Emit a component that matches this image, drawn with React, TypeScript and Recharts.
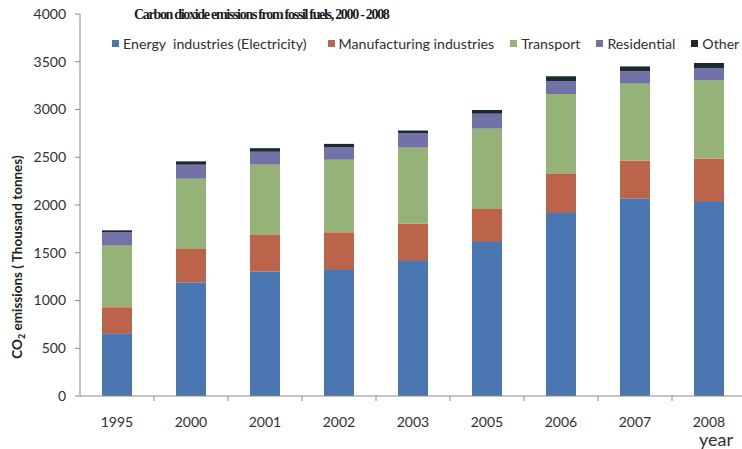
import React from 'react';
import { BarChart, Bar, XAxis, YAxis } from 'recharts';

const categories = ['1995', '2000', '2001', '2002', '2003', '2005', '2006', '2007', '2008'];
const energy = [650, 1185, 1300, 1320, 1414, 1613, 1916, 2066, 2031];
const manufacturing = [280, 355, 386, 394, 390, 345, 409, 398, 454];
const transport = [645, 735, 736, 760, 796, 841, 837, 806, 820];
const residential = [140, 147, 136, 133, 150, 157, 136, 130, 130];
const other = [20, 35, 37, 33, 30, 39, 50, 51, 52];
const yTicks = [0, 500, 1000, 1500, 2000, 2500, 3000, 3500, 4000];

const seriesNames = ['Energy  industries (Electricity)', 'Manufacturing industries', 'Transport', 'Residential', 'Other'];
const seriesKeys = ['energy', 'manufacturing', 'transport', 'residential', 'other'];
const seriesColors = ['#4a76b2', '#bc6449', '#95b378', '#7372a8', '#1a2b2b'];

const data = categories.map((c, i) => ({
  year: c,
  energy: energy[i],
  manufacturing: manufacturing[i],
  transport: transport[i],
  residential: residential[i],
  other: other[i],
}));

const FONT = 'Lato, "Open Sans", sans-serif';
const BAND = 74;

const XTick = (props: any) => {
  const { x, payload } = props;
  return (
    <g>
      <line x1={x + BAND / 2} x2={x + BAND / 2} y1={396} y2={401} stroke="#8a8a8a" />
      <text x={x} y={427} textAnchor="middle" fontFamily={FONT} fontSize={14} fill="#303030">
        {payload.value}
      </text>
    </g>
  );
};

export default function App() {
  return (
    <div style={{ position: 'absolute', left: 0, top: 0, width: 742, height: 449, overflow: 'hidden', background: '#fff' }}>
      <BarChart
        width={746}
        height={449}
        data={data}
        margin={{ top: 14, right: 0, bottom: 0, left: 0 }}
        barSize={30}
      >
        <YAxis
          width={80}
          domain={[0, 4000]}
          ticks={yTicks}
          interval={0}
          tickSize={5}
          tickMargin={9}
          axisLine={{ stroke: '#8a8a8a' }}
          tickLine={{ stroke: '#8a8a8a' }}
          tick={{ fontFamily: FONT, fontSize: 14, fill: '#303030' }}
        />
        <XAxis
          dataKey="year"
          height={53}
          interval={0}
          tickLine={false}
          axisLine={{ stroke: '#8a8a8a' }}
          tick={<XTick />}
        />
        {seriesKeys.map((k, i) => (
          <Bar key={k} dataKey={k} stackId="a" fill={seriesColors[i]} isAnimationActive={false} />
        ))}
      </BarChart>
      <div
        style={{
          position: 'absolute', left: 134, top: 7,
          fontFamily: '"Liberation Serif", serif', fontWeight: 'bold', fontSize: 14,
          letterSpacing: -1.3, color: '#1a1a1a', whiteSpace: 'nowrap',
        }}
      >
        Carbon dioxide emissions from fossil fuels, 2000 - 2008
      </div>
      <div
        style={{
          position: 'absolute', left: 112, top: 35, display: 'flex', alignItems: 'center',
          fontFamily: FONT, fontSize: 14.2, color: '#303030', whiteSpace: 'pre',
        }}
      >
        {seriesNames.map((n, i) => (
          <div key={n} style={{ display: 'flex', alignItems: 'center', marginRight: i === 0 ? 21 : 16 }}>
            <span style={{ display: 'inline-block', width: 7, height: 7, background: seriesColors[i], marginRight: 4 }} />
            <span>{n}</span>
          </div>
        ))}
      </div>
      <div
        style={{
          position: 'absolute', left: 18, top: 257, transform: 'translate(-50%, -50%) rotate(-90deg)',
          fontFamily: FONT, fontWeight: 'bold', fontSize: 13.5, color: '#202020', whiteSpace: 'nowrap',
        }}
      >
        CO<sub style={{ fontSize: 9 }}>2</sub> emissions ( Thousand tonnes)
      </div>
      <div
        style={{
          position: 'absolute', left: 699, top: 428, fontFamily: FONT, fontSize: 18, color: '#303030',
        }}
      >
        year
      </div>
    </div>
  );
}
